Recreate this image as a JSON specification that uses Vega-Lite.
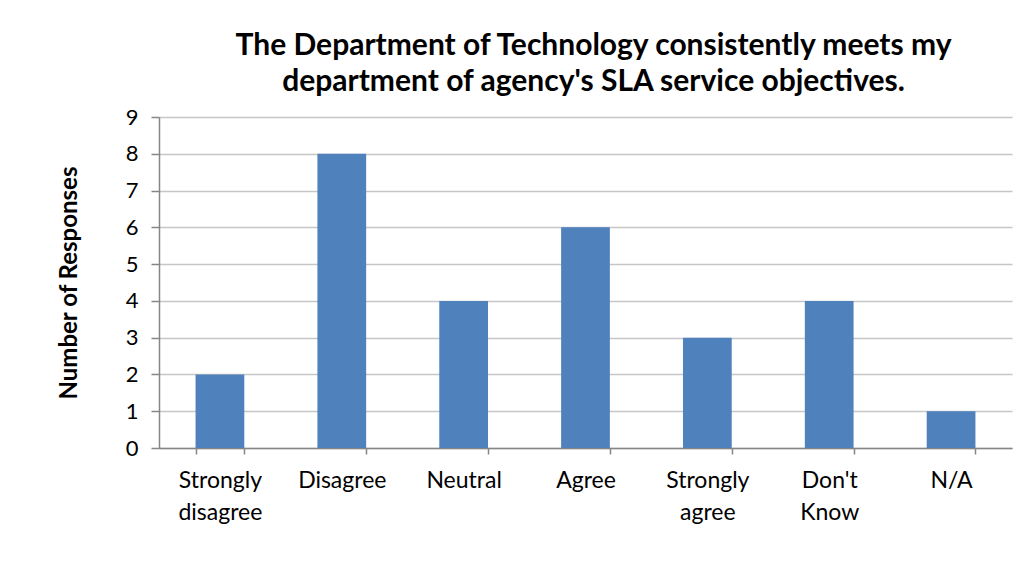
{
  "$schema": "https://vega.github.io/schema/vega-lite/v6.json",
  "autosize": {"type": "none"},
  "width": 853,
  "height": 331,
  "padding": {"left": 159, "top": 117, "right": 20, "bottom": 128},
  "background": "white",
  "title": {
    "text": ["The Department of Technology consistently meets my", "department of agency's SLA service objectives."],
    "font": "Lato",
    "fontSize": 30,
    "fontWeight": "bold",
    "color": "#000000",
    "anchor": "middle",
    "dx": 8,
    "offset": 9,
    "lineHeight": 36
  },
  "data": {
    "values": [
      {"response": "Strongly disagree", "count": 2},
      {"response": "Disagree", "count": 8},
      {"response": "Neutral", "count": 4},
      {"response": "Agree", "count": 6},
      {"response": "Strongly agree", "count": 3},
      {"response": "Don't Know", "count": 4},
      {"response": "N/A", "count": 1}
    ]
  },
  "mark": {"type": "bar", "color": "#4F81BD"},
  "encoding": {
    "x": {
      "field": "response",
      "type": "nominal",
      "sort": null,
      "scale": {"paddingInner": 0.6, "paddingOuter": 0.3},
      "axis": {
        "title": null,
        "labelAngle": 0,
        "labelExpr": "split(datum.label, ' ')",
        "labelFont": "Lato",
        "labelFontSize": 23,
        "labelColor": "#000000",
        "labelLineHeight": 32,
        "labelPadding": 15,
        "labelBaseline": "top",
        "tickBand": "extent",
        "tickColor": "#868686",
        "tickSize": 6,
        "tickWidth": 1.5,
        "domainColor": "#868686",
        "domainWidth": 1.5
      }
    },
    "y": {
      "field": "count",
      "type": "quantitative",
      "scale": {"domain": [0, 9]},
      "axis": {
        "title": "Number of Responses",
        "titleFont": "Lato",
        "titleFontSize": 24,
        "titleFontWeight": "bold",
        "titleColor": "#000000",
        "titlePadding": 44,
        "values": [0, 1, 2, 3, 4, 5, 6, 7, 8, 9],
        "labelFont": "Lato",
        "labelFontSize": 22,
        "labelColor": "#000000",
        "labelPadding": 13,
        "tickColor": "#868686",
        "tickSize": 8,
        "tickWidth": 1.5,
        "domainColor": "#868686",
        "domainWidth": 1.5,
        "grid": true,
        "gridColor": "#c6c6c6",
        "gridWidth": 1.5
      }
    }
  },
  "config": {"view": {"stroke": null}}
}
